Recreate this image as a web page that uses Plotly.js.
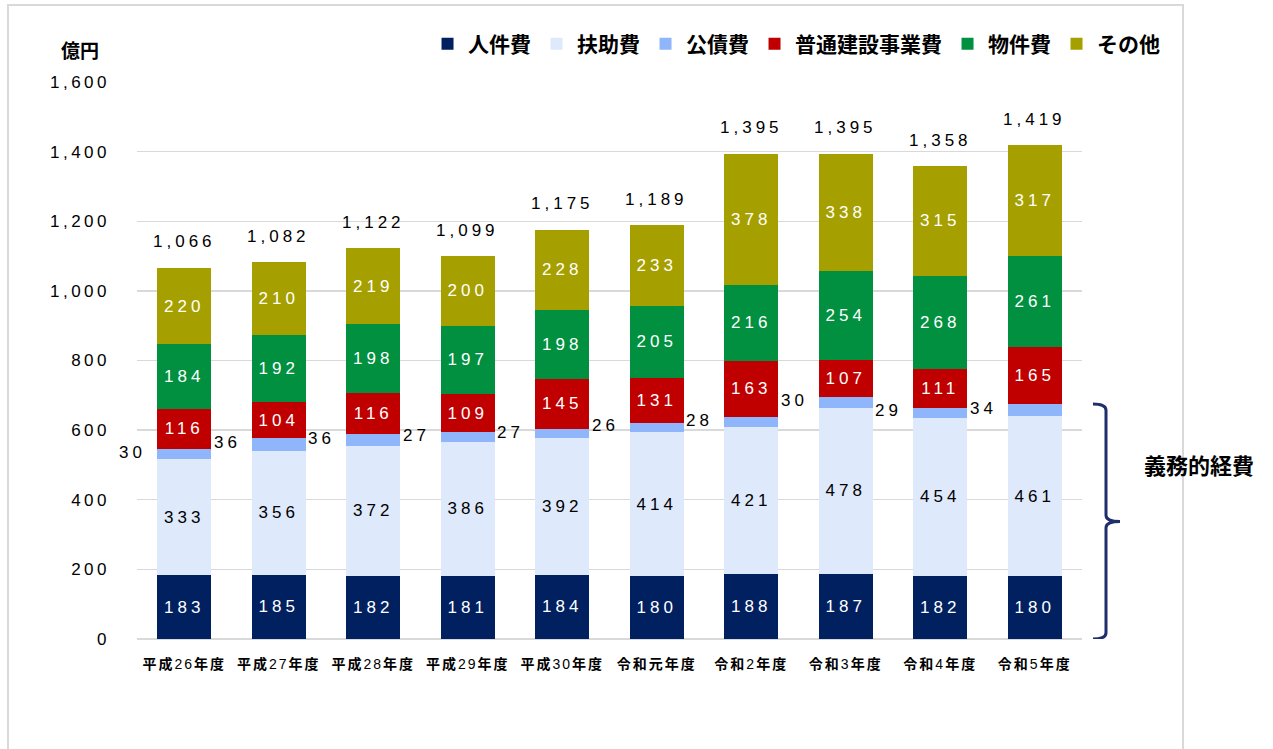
<!DOCTYPE html>
<html>
<head>
<meta charset="utf-8">
<script src="https://cdn.plot.ly/plotly-3.0.1.min.js"></script>
<style>
  html, body { margin: 0; padding: 0; background: #ffffff; }
  #chart { width: 1273px; height: 749px; }
</style>
</head>
<body>
<div id="chart"></div>
<script>
// ---- data ----
const categories = ["平成26年度","平成27年度","平成28年度","平成29年度","平成30年度","令和元年度","令和2年度","令和3年度","令和4年度","令和5年度"];
const jinkenhi   = [183,185,182,181,184,180,188,187,182,180];
const fujohi     = [333,356,372,386,392,414,421,478,454,461];
const kosaihi    = [30,36,36,27,27,26,28,30,29,34];
const futsuken   = [116,104,116,109,145,131,163,107,111,165];
const bukkenhi   = [184,192,198,197,198,205,216,254,268,261];
const sonota     = [220,210,219,200,228,233,378,338,315,317];
const totals     = [1066,1082,1122,1099,1175,1189,1395,1395,1358,1419];
const yTicks     = [0,200,400,600,800,1000,1200,1400,1600];

const seriesNames  = ["人件費","扶助費","公債費","普通建設事業費","物件費","その他"];
const seriesValues = [jinkenhi, fujohi, kosaihi, futsuken, bukkenhi, sonota];
const seriesColors = ["#002060","#DFE9FC","#8FB6FA","#C00000","#009040","#A69F00"];
const textColors   = ["#ffffff","#000000","#000000","#ffffff","#ffffff","#ffffff"];

const NUMFONT = "Liberation Sans, Arial, sans-serif";
const JPFONT = "Liberation Sans, Noto Sans CJK JP, sans-serif";
const sp = (t, s) => '<span style="letter-spacing:' + (s || 4) + 'px">' + t + '</span>';

// category tick text: CJK bold, digits regular
function catLabel(s) {
  return sp(s.replace(/([^0-9]+)/g, '<b>$1</b>'), 2);
}

const traces = seriesNames.map((name, i) => ({
  type: 'bar',
  name: name,
  x: categories,
  y: seriesValues[i],
  marker: { color: seriesColors[i], line: { width: 0 } },
  text: i === 2 ? null : seriesValues[i].map(v => sp(v)),
  texttemplate: i === 2 ? '' : '%{text}',
  textposition: i === 2 ? 'none' : 'inside',
  insidetextanchor: 'middle',
  textangle: 0,
  constraintext: 'none',
  textfont: { family: NUMFONT, size: 17, color: textColors[i] },
  hoverinfo: 'skip'
}));

const annotations = [];
// totals above bars
categories.forEach((c, k) => {
  annotations.push({
    x: c, y: totals[k], xref: 'x', yref: 'y',
    text: sp(totals[k].toLocaleString('en-US')),
    showarrow: false, yshift: 26, xshift: 0,
    xanchor: 'center', yanchor: 'middle',
    font: { family: NUMFONT, size: 17, color: '#000000' }
  });
});
// 公債費 labels to the left of the bars
categories.forEach((c, k) => {
  const base = jinkenhi[k] + fujohi[k];
  annotations.push({
    x: c, y: base + kosaihi[k] / 2 + 5, xref: 'x', yref: 'y',
    text: sp(kosaihi[k]),
    showarrow: false, xanchor: 'right', yanchor: 'middle', xshift: -36,
    font: { family: NUMFONT, size: 17, color: '#000000' }
  });
});
// unit label
annotations.push({
  x: -0.0603, y: 1.054, xref: 'paper', yref: 'paper',
  xanchor: 'center', yanchor: 'middle',
  text: '<b>億円</b>', showarrow: false,
  font: { family: JPFONT, size: 19, color: '#000000' }
});
// bracket label
annotations.push({
  x: 1.1238, y: 0.309, xref: 'paper', yref: 'paper',
  xanchor: 'center', yanchor: 'middle',
  text: '<b>義務的経費</b>', showarrow: false,
  font: { family: JPFONT, size: 22, color: '#000000' }
});

// bracket spanning 義務的経費 of last year
const last = categories.length - 1;
const gTop = jinkenhi[last] + fujohi[last] + kosaihi[last];
const gMid = gTop / 2;
const xl = 1.0116, xv = 1.0254, xt = 1.0402;
const bracketPath =
  `M ${xl},${gTop} Q ${xv},${gTop} ${xv},${gTop - 18} ` +
  `L ${xv},${gMid + 18} Q ${xv},${gMid} ${xt},${gMid} ` +
  `Q ${xv},${gMid} ${xv},${gMid - 18} ` +
  `L ${xv},18 Q ${xv},0 ${xl},0`;

const shapes = [
  { type: 'rect', xref: 'paper', yref: 'paper', x0: -0.1365, x1: 1.1069, y0: -0.3, y1: 1.1382,
    line: { color: '#d9d9d9', width: 2 }, fillcolor: 'rgba(0,0,0,0)', layer: 'below' },
  { type: 'path', xref: 'paper', yref: 'y', path: bracketPath,
    line: { color: '#1F2F6B', width: 3 } }
];

const layout = {
  width: 1273, height: 749,
  margin: { l: 137, r: 191, t: 82, b: 110, autoexpand: false },
  paper_bgcolor: '#ffffff', plot_bgcolor: '#ffffff',
  barmode: 'stack', bargap: 0.43,
  font: { family: JPFONT, color: '#000000' },
  showlegend: true,
  legend: {
    orientation: 'h', x: 0.3069, y: 1.068, xanchor: 'left', yanchor: 'middle',
    itemwidth: 31,
    traceorder: 'normal', font: { family: JPFONT, size: 21, color: '#000000', weight: 'bold' },
    bgcolor: 'rgba(0,0,0,0)', itemclick: false, itemdoubleclick: false
  },
  xaxis: {
    type: 'category', range: [-0.5, categories.length - 0.5], autorange: false,
    tickmode: 'array', tickvals: categories, ticktext: categories.map(catLabel),
    tickfont: { family: JPFONT, size: 14, color: '#000000' },
    showgrid: false, zeroline: false, showline: false, ticks: '',
    ticklabelstandoff: 15, fixedrange: true, automargin: false
  },
  yaxis: {
    range: [0, 1600], autorange: false, tickmode: 'array', tickvals: yTicks,
    ticktext: yTicks.map(v => sp(v.toLocaleString('en-US'), 3.5)),
    tickfont: { family: NUMFONT, size: 17, color: '#000000' },
    showgrid: true, gridcolor: '#d9d9d9', gridwidth: 1.3,
    zeroline: true, zerolinecolor: '#d9d9d9', zerolinewidth: 1.3,
    showline: false, ticks: '', ticklabelstandoff: 26, fixedrange: true, automargin: false
  },
  annotations: annotations,
  shapes: shapes
};

Plotly.newPlot('chart', traces, layout, { displayModeBar: false, staticPlot: true });
</script>
</body>
</html>
